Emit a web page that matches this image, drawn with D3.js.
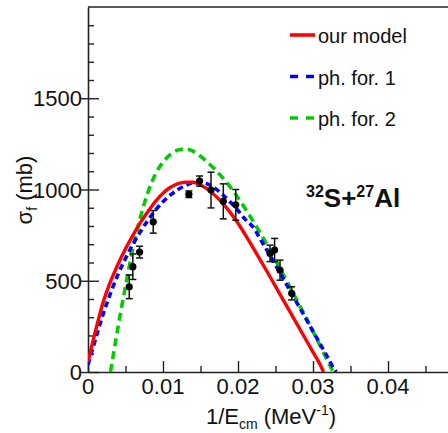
<!DOCTYPE html>
<html>
<head>
<meta charset="utf-8">
<script src="https://cdn.jsdelivr.net/npm/d3@7"></script>
<style>
  body { margin: 0; background: #fff; }
  text { font-family: "Liberation Sans", Arial, sans-serif; fill: #111; }
</style>
</head>
<body>
<div id="chart"></div>
<script>
// Size of the picture
const w = 448;
const h = 433;

// Curve abscissas (1/Ecm, MeV^-1) and the three model curves (mb)
const redX = [0, 0.001, 0.002, 0.003, 0.004, 0.005, 0.006, 0.007, 0.008, 0.009, 0.010, 0.011, 0.012, 0.013, 0.014, 0.015, 0.016, 0.017, 0.018, 0.019, 0.020, 0.021, 0.022, 0.023, 0.024, 0.025, 0.026, 0.027, 0.028, 0.029, 0.030, 0.031, 0.0314];
const redY = [55, 225, 380, 495, 590, 675, 750, 820, 880, 935, 980, 1012, 1032, 1040, 1040, 1025, 1000, 965, 922, 872, 815, 750, 682, 612, 541, 469, 397, 325, 253, 181, 109, 37, 0];

const blueX = [0, 0.001, 0.002, 0.003, 0.004, 0.005, 0.006, 0.007, 0.008, 0.009, 0.010, 0.011, 0.012, 0.013, 0.014, 0.015, 0.016, 0.017, 0.018, 0.019, 0.020, 0.021, 0.022, 0.023, 0.024, 0.025, 0.026, 0.027, 0.028, 0.029, 0.030, 0.031, 0.032, 0.033, 0.0331];
const blueY = [40, 180, 315, 432, 535, 622, 700, 770, 832, 887, 933, 970, 1000, 1022, 1038, 1042, 1030, 1005, 970, 930, 885, 835, 795, 727, 657, 586, 514, 442, 369, 296, 223, 150, 77, 5, 0];

const greenX = [0.003, 0.004, 0.005, 0.006, 0.007, 0.008, 0.009, 0.010, 0.011, 0.012, 0.013, 0.014, 0.015, 0.016, 0.017, 0.018, 0.019, 0.020, 0.021, 0.022, 0.023, 0.024, 0.025, 0.026, 0.027, 0.028, 0.029, 0.030, 0.031, 0.032, 0.0327];
const greenY = [0, 245, 470, 680, 850, 985, 1085, 1150, 1192, 1216, 1222, 1210, 1182, 1147, 1107, 1062, 1012, 955, 893, 828, 760, 688, 613, 537, 460, 382, 303, 222, 140, 57, 0];

// Measured points with errors
const expX = [0.0055, 0.00598, 0.00688, 0.0087, 0.01345, 0.01488, 0.0164, 0.01804, 0.0197, 0.02427, 0.02488, 0.0256, 0.02716];
const expY = [467, 577, 657, 823, 974, 1046, 997, 935, 916, 650, 668, 558, 431];
const expErr = [65, 70, 32, 62, 18, 28, 98, 96, 84, 45, 64, 55, 36];

// Axis ticks
const xTicks = [0, 0.01, 0.02, 0.03, 0.04];
const xTickLabels = ["0", "0.01", "0.02", "0.03", "0.04"];
const yTicks = [0, 500, 1000, 1500];
const yTickLabels = ["0", "500", "1000", "1500"];

// Legend entries
const legendNames = ["our model", "ph. for. 1", "ph. for. 2"];
const legendColors = ["#ff0000", "#0000ff", "#00cc00"];

const svg = d3.select("#chart")
    .append("svg")
    .attr("width", w)
    .attr("height", h);

// Scales
const xScale = d3.scaleLinear().domain([0, 0.048]).range([88, 448]);
const yScale = d3.scaleLinear().domain([0, 2000]).range([372, 7]);

svg.append("defs").append("clipPath").attr("id", "plot")
    .append("rect")
    .attr("x", 88).attr("y", 7)
    .attr("width", 360).attr("height", 365);

// Frame: top line
svg.append("line")
    .attr("x1", 88).attr("x2", 448).attr("y1", 7).attr("y2", 7)
    .attr("stroke", "#222").attr("stroke-width", 1.6);

// x axis with inward ticks
const xMinor = d3.range(0, 0.0476, 0.005);
const xAxis = d3.axisTop(xScale).tickValues(xMinor).tickFormat("").tickSizeOuter(0).tickSize(0);
const gx = svg.append("g").attr("transform", `translate(0,${yScale(0)})`).call(xAxis);
gx.select(".domain").attr("stroke", "#222").attr("stroke-width", 1.6);
gx.selectAll(".tick line")
    .attr("y2", (d, i) => (i % 2 === 0 ? -11 : -6))
    .attr("stroke", "#222").attr("stroke-width", 1.4);

svg.selectAll("text.xlab")
    .data(xTicks)
    .enter()
    .append("text")
    .attr("class", "xlab")
    .attr("x", d => xScale(d))
    .attr("y", 394)
    .attr("text-anchor", "middle")
    .attr("font-size", "22px")
    .text((d, i) => xTickLabels[i]);

// y axis with crossing major ticks and inward minor ticks
const yMinor = d3.range(0, 2000, 100);
const yAxis = d3.axisRight(yScale).tickValues(yMinor).tickFormat("").tickSizeOuter(0).tickSize(0);
const gy = svg.append("g").attr("transform", `translate(${xScale(0)},0)`).call(yAxis);
gy.select(".domain").attr("stroke", "#222").attr("stroke-width", 1.6);
gy.selectAll(".tick line")
    .attr("x1", d => (d % 500 === 0 ? -7 : 0))
    .attr("x2", d => (d % 500 === 0 ? 11 : 6))
    .attr("stroke", "#222").attr("stroke-width", 1.4);

svg.selectAll("text.ylab")
    .data(yTicks)
    .enter()
    .append("text")
    .attr("class", "ylab")
    .attr("x", 82)
    .attr("y", d => yScale(d) + 8)
    .attr("text-anchor", "end")
    .attr("font-size", "22px")
    .text((d, i) => yTickLabels[i]);

// Axis titles
const xt = svg.append("text")
    .attr("x", 271)
    .attr("y", 424)
    .attr("text-anchor", "middle")
    .attr("font-size", "22px");
xt.append("tspan").text("1/E");
xt.append("tspan").attr("font-size", "14px").attr("dy", 5).text("cm");
xt.append("tspan").attr("dy", -5).text(" (MeV");
xt.append("tspan").attr("font-size", "14px").attr("dy", -9).text("-1");
xt.append("tspan").attr("dy", 9).text(")");

const yt = svg.append("text")
    .attr("transform", "translate(32,190) rotate(-90)")
    .attr("text-anchor", "middle")
    .attr("font-size", "22px");
yt.append("tspan").text("σ");
yt.append("tspan").attr("font-size", "14px").attr("dy", 5).text("f");
yt.append("tspan").attr("dy", -5).text(" (mb)");

// Model curves
const line = d3.line()
    .x(d => xScale(d[0]))
    .y(d => yScale(d[1]))
    .curve(d3.curveMonotoneX);

const curves = svg.append("g").attr("clip-path", "url(#plot)");

curves.append("path")
    .attr("d", line(d3.zip(greenX, greenY)))
    .attr("fill", "none")
    .attr("stroke", legendColors[2])
    .attr("stroke-width", 3.6)
    .attr("stroke-dasharray", "8,5");

curves.append("path")
    .attr("d", line(d3.zip(blueX, blueY)))
    .attr("fill", "none")
    .attr("stroke", legendColors[1])
    .attr("stroke-width", 3.6)
    .attr("stroke-dasharray", "6,4");

curves.append("path")
    .attr("d", line(d3.zip(redX, redY)))
    .attr("fill", "none")
    .attr("stroke", legendColors[0])
    .attr("stroke-width", 3.4);

// Data points with error bars
const pts = svg.selectAll("g.pt")
    .data(expX.map((x, i) => ({ x: x, y: expY[i], e: expErr[i] })))
    .enter()
    .append("g")
    .attr("class", "pt");

pts.append("line")
    .attr("x1", d => xScale(d.x)).attr("x2", d => xScale(d.x))
    .attr("y1", d => yScale(d.y - d.e)).attr("y2", d => yScale(d.y + d.e))
    .attr("stroke", "#111").attr("stroke-width", 1.5);

[-1, 1].forEach(s => {
    pts.append("line")
        .attr("x1", d => xScale(d.x) - 3.5).attr("x2", d => xScale(d.x) + 3.5)
        .attr("y1", d => yScale(d.y + s * d.e)).attr("y2", d => yScale(d.y + s * d.e))
        .attr("stroke", "#111").attr("stroke-width", 1.5);
});

pts.append("circle")
    .attr("cx", d => xScale(d.x))
    .attr("cy", d => yScale(d.y))
    .attr("r", 3.6)
    .attr("fill", "#000");

// Legend
const legend = svg.selectAll("g.leg")
    .data(legendNames)
    .enter()
    .append("g")
    .attr("class", "leg")
    .attr("transform", (d, i) => `translate(290,${35 + i * 41.5})`);

legend.append("line")
    .attr("x1", 0).attr("x2", 25).attr("y1", 0).attr("y2", 0)
    .attr("stroke", (d, i) => legendColors[i])
    .attr("stroke-width", 3.6)
    .attr("stroke-dasharray", (d, i) => (i === 0 ? null : "8,8"));

legend.append("text")
    .attr("x", 28)
    .attr("y", 8)
    .attr("font-size", "20px")
    .text(d => d);

// Reaction label
const lab = svg.append("text")
    .attr("x", 306)
    .attr("y", 207)
    .attr("font-size", "26px")
    .attr("font-weight", "bold");
lab.append("tspan").attr("font-size", "16px").attr("dy", -10).text("32");
lab.append("tspan").attr("dy", 10).text("S+");
lab.append("tspan").attr("font-size", "16px").attr("dy", -10).text("27");
lab.append("tspan").attr("dy", 10).text("Al");
</script>
</body>
</html>
